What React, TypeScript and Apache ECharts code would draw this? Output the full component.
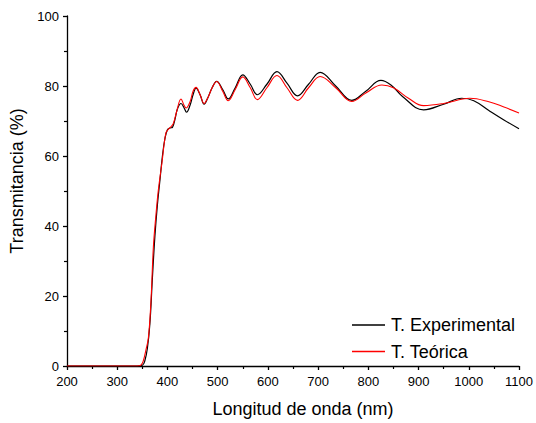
import React, { useEffect, useRef } from "react";
import * as echarts from "echarts";

const expX = [200, 340, 350, 355, 360, 365, 370, 375, 380, 385, 390, 395, 400, 405, 410, 415, 420, 427, 433, 438, 445, 451, 457, 465, 473, 480, 489, 498, 510, 521, 535, 550, 565, 579, 598, 618, 638, 659, 681, 704, 735, 767, 795, 825, 845, 868, 910, 950, 986, 1010, 1040, 1070, 1100];
const expY = [0, 0, 0.2, 1.5, 5, 12, 25, 37, 46, 53, 60, 65, 67.5, 68, 68.2, 70.5, 73.5, 75, 73.8, 72.5, 74.5, 77.5, 79.4, 77.5, 74.8, 76.5, 79.5, 81.3, 79, 76.3, 79.5, 83.2, 80.5, 77.5, 80.5, 84.1, 80.8, 77.2, 80.5, 83.9, 80, 75.9, 78.5, 81.6, 80.3, 77, 73.2, 74.8, 76.5, 75.8, 73, 70.3, 67.8];

const theoX = [200, 340, 347, 352, 357, 362, 367, 372, 377, 382, 389, 397, 403, 408, 412, 418, 427, 433, 437, 445, 451, 457, 465, 473, 480, 489, 498, 510, 521, 535, 550, 565, 579, 598, 618, 638, 659, 681, 704, 735, 767, 795, 827, 850, 880, 910, 950, 1002, 1040, 1070, 1100];
const theoY = [0, 0, 0.2, 1.5, 4.5, 8, 18, 34, 43, 50.4, 58, 66.6, 67.8, 68.5, 69.4, 72.5, 76.3, 74.5, 73.7, 75.5, 78.5, 79.6, 77.5, 75, 76.5, 79.5, 81.3, 78.5, 75.8, 79, 82.6, 79.5, 76.1, 79.5, 83, 79.5, 75.9, 79.5, 82.7, 79.5, 75.6, 78, 80.3, 79.5, 76.5, 74.4, 75, 76.5, 75.5, 74, 72.3];

const seriesNames = ["T. Experimental", "T. Teórica"];
const xTitle = "Longitud de onda (nm)";
const yTitle = "Transmitancia (%)";

export default function App() {
  const ref = useRef<HTMLDivElement>(null);
  useEffect(() => {
    if (!ref.current) return;
    const chart = echarts.init(ref.current, undefined, { renderer: "svg" });
    const font = "Liberation Sans, Arial, sans-serif";
    const axisCommon = {
      axisLine: { show: true, onZero: false, lineStyle: { color: "#000", width: 1.3 } },
      axisTick: { show: true, inside: false, length: 4, lineStyle: { color: "#000", width: 1.3 } },
      minorTick: { show: true, splitNumber: 2, length: 3, lineStyle: { color: "#000", width: 1.2 } },
      splitLine: { show: false },
      axisLabel: {
        color: "#000",
        fontSize: 13,
        fontFamily: font,
        formatter: (v: number) => String(v),
      },
    };
    chart.setOption({
      animation: false,
      backgroundColor: "#fff",
      grid: { left: 67, right: 17, top: 16, bottom: 56 },
      legend: {
        orient: "vertical",
        left: 352,
        top: 316,
        padding: 0,
        itemWidth: 33,
        itemHeight: 1.5,
        itemGap: 8.5,
        textStyle: { color: "#000", fontSize: 18, lineHeight: 18, fontFamily: font, padding: [0, 0, 0, 1] },
        data: [
          { name: seriesNames[0], icon: "rect", itemStyle: { color: "#000" } },
          { name: seriesNames[1], icon: "rect", itemStyle: { color: "#ff0000" } },
        ],
      },
      xAxis: {
        type: "value",
        min: 200,
        max: 1100,
        interval: 100,
        name: xTitle,
        nameLocation: "middle",
        nameGap: 34,
        nameTextStyle: { color: "#000", fontSize: 18, fontFamily: font, padding: [0, 0, 0, 20] },
        ...axisCommon,
        axisLabel: { ...axisCommon.axisLabel, margin: 9 },
      },
      yAxis: {
        type: "value",
        min: 0,
        max: 100,
        interval: 20,
        name: yTitle,
        nameLocation: "middle",
        nameGap: 33,
        nameRotate: 90,
        nameTextStyle: { color: "#000", fontSize: 18, fontFamily: font, padding: [0, 0, 0, 20] },
        ...axisCommon,
        axisLabel: { ...axisCommon.axisLabel, margin: 8 },
      },
      series: [
        {
          name: seriesNames[0],
          type: "line",
          data: expX.map((x, i) => [x, expY[i]]),
          smooth: 0.4,
          showSymbol: false,
          symbol: "none",
          lineStyle: { color: "#000", width: 1.2 },
          itemStyle: { color: "#000" },
        },
        {
          name: seriesNames[1],
          type: "line",
          data: theoX.map((x, i) => [x, theoY[i]]),
          smooth: 0.4,
          showSymbol: false,
          symbol: "none",
          lineStyle: { color: "#ff0000", width: 1.1 },
          itemStyle: { color: "#ff0000" },
        },
      ],
    });
    return () => chart.dispose();
  }, []);
  return (
    <div
      ref={ref}
      style={{ position: "fixed", left: 0, top: 0, width: 536, height: 423 }}
    />
  );
}
